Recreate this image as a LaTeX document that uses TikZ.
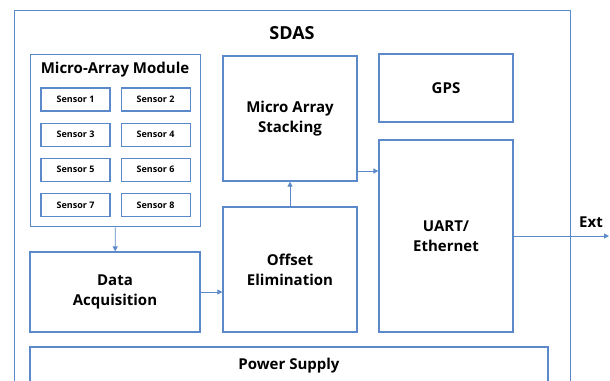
\documentclass[tikz,border=0pt]{standalone}
\usepackage{fontspec}
\setmainfont{Open Sans}
\usepackage{xcolor}
\definecolor{Frame}{HTML}{5B89C9}
\usetikzlibrary{positioning,arrows.meta}

\begin{document}
\begin{tikzpicture}[
  x=1pt,y=-1pt,
  block/.style={
    draw=Frame,
    line width=1.3pt,
    minimum width=134pt,
    inner sep=0pt,
    align=center,
    font=\bfseries\fontsize{15}{20}\selectfont
  },
  frame/.style={draw=Frame,line width=1.3pt,inner sep=0pt,anchor=north west},
  sensor/.style={
    draw=Frame,
    line width=1.1pt,
    minimum width=69pt,
    minimum height=23pt,
    inner sep=0pt,
    font=\bfseries\fontsize{9}{10}\selectfont
  },
  arr/.style={-{Triangle[length=5pt,width=5pt]},line width=0.9pt,Frame}
]
\useasboundingbox (0,0) rectangle (610,380);

\node[frame,minimum width=556pt,minimum height=400pt] (sdas) at (14,10) {};
\node[anchor=base,font=\bfseries\fontsize{18}{20}\selectfont] (sdastitle) at (292,39) {SDAS};

% micro-array module with its sensors
\node[frame,minimum width=170pt,minimum height=172pt] (module) at (30,54) {};
\node[anchor=base,font=\bfseries\fontsize{15}{18}\selectfont] (moduletitle) at (115,73) {Micro-Array Module};

\node[sensor] (s1) at (75.5,99.5) {Sensor 1};
\node[sensor,right=10pt of s1] (s2) {Sensor 2};
\node[sensor,below=11pt of s1] (s3) {Sensor 3};
\node[sensor,right=10pt of s3] (s4) {Sensor 4};
\node[sensor,below=11pt of s3] (s5) {Sensor 5};
\node[sensor,right=10pt of s5] (s6) {Sensor 6};
\node[sensor,below=11pt of s5] (s7) {Sensor 7};
\node[sensor,right=10pt of s7] (s8) {Sensor 8};

\node[block,minimum width=170pt,minimum height=80pt] (daq) at (115,292) {Data\\Acquisition};
\node[block,minimum height=125pt] (offset) at (290,269.5) {Offset\\Elimination};
\node[block,minimum height=125pt] (stack) at (290,118.5) {Micro Array\\Stacking};
\node[block,minimum height=68pt] (gps) at (446,88) {GPS};
\node[block,minimum height=192pt] (uart) at (446,236) {UART/\\Ethernet};
\node[block,minimum width=518pt,minimum height=38pt] (power) at (289,366) {Power Supply};

\coordinate (ext) at (609,236);
\node[anchor=base,font=\bfseries\fontsize{15}{18}\selectfont] (extlabel) at (591,227) {Ext};

\draw[arr] (module) -- (daq);
\draw[arr] (daq.east) -- (daq.east -| offset.west);
\draw[arr] (offset) -- (stack);
\draw[arr] ([yshift=-52.5pt]stack.east) -- ([yshift=-52.5pt]stack.east -| uart.west);
\draw[arr] (uart.east) -- (ext);

\end{tikzpicture}
\end{document}
